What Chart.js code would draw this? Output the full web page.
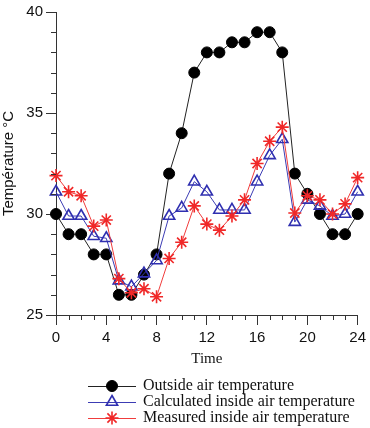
<!DOCTYPE html>
<html>
<head>
<meta charset="utf-8">
<script src="https://cdn.jsdelivr.net/npm/chart.js"></script>
<style>
  html, body { margin: 0; padding: 0; background: #fff; }
  #wrap { width: 370px; height: 428px; position: relative; }
</style>
</head>
<body>
<div id="wrap"><canvas id="chart"></canvas></div>
<script>
const hours = [0, 1, 2, 3, 4, 5, 6, 7, 8, 9, 10, 11, 12, 13, 14, 15, 16, 17, 18, 19, 20, 21, 22, 23, 24];

const outsideTemp = [30, 29, 29, 28, 28, 26, 26, 27, 28, 32, 34, 37, 38, 38, 38.5, 38.5, 39, 39, 38, 32, 31, 30, 29, 29, 30];
const calculatedTemp = [31.1, 29.9, 29.9, 28.9, 28.8, 26.7, 26.4, 27.05, 27.7, 29.9, 30.3, 31.6, 31.1, 30.2, 30.2, 30.2, 31.6, 32.9, 33.7, 29.6, 30.7, 30.4, 29.9, 30.0, 31.1];
const measuredTemp = [31.9, 31.1, 30.9, 29.4, 29.7, 26.8, 26.1, 26.3, 25.9, 27.8, 28.6, 30.4, 29.5, 29.2, 29.9, 30.7, 32.5, 33.6, 34.3, 30.05, 30.9, 30.7, 30.0, 30.5, 31.8];

const seriesNames = ['Outside air temperature', 'Calculated inside air temperature', 'Measured inside air temperature'];

const toPoints = vals => hours.map((h, i) => ({ x: h, y: vals[i] }));

const axisColor = '#333';

// minor ticks (every hour / every degree) drawn with the scales
const minorTicks = {
    id: 'minorTicks',
    afterDraw(chart) {
        const ctx = chart.ctx;
        const xs = chart.scales.x, ys = chart.scales.y;
        ctx.save();
        ctx.strokeStyle = axisColor;
        ctx.lineWidth = 1;
        ctx.beginPath();
        for (let v = xs.min; v <= xs.max; v++) {
            if (v % 4 === 0) continue;
            const px = Math.round(xs.getPixelForValue(v)) + 0.5;
            ctx.moveTo(px, xs.top);
            ctx.lineTo(px, xs.top + 5);
        }
        for (let v = ys.min; v <= ys.max; v++) {
            if (v % 5 === 0) continue;
            const py = Math.round(ys.getPixelForValue(v)) + 0.5;
            ctx.moveTo(ys.right, py);
            ctx.lineTo(ys.right - 5, py);
        }
        ctx.stroke();
        ctx.restore();
    }
};

// legend: line sample with marker in the middle, then text
const lineLegend = {
    id: 'lineLegend',
    afterDraw(chart) {
        const ctx = chart.ctx;
        const x0 = 88, x1 = 136, tx = 143;
        const rows = [386, 402, 418];
        ctx.save();
        chart.data.datasets.forEach((ds, i) => {
            const y = rows[i];
            ctx.strokeStyle = ds.borderColor;
            ctx.lineWidth = 1;
            ctx.beginPath();
            ctx.moveTo(x0, y + 0.5);
            ctx.lineTo(x1, y + 0.5);
            ctx.stroke();
            ctx.fillStyle = ds.pointBackgroundColor;
            ctx.strokeStyle = ds.pointBorderColor;
            ctx.lineWidth = ds.pointBorderWidth;
            Chart.helpers.drawPoint(ctx, {
                pointStyle: ds.pointStyle,
                radius: ds.pointRadius,
                borderWidth: ds.pointBorderWidth,
                rotation: 0
            }, (x0 + x1) / 2, y);
            ctx.fillStyle = '#111';
            ctx.font = '16px "Liberation Serif", "Times New Roman", serif';
            ctx.textBaseline = 'middle';
            ctx.textAlign = 'left';
            ctx.fillText(ds.label, tx, y);
        });
        ctx.restore();
    }
};

new Chart(document.getElementById('chart'), {
    type: 'line',
    data: {
        datasets: [
            {
                label: seriesNames[0],
                data: toPoints(outsideTemp),
                borderColor: '#222',
                borderWidth: 1,
                pointStyle: 'circle',
                pointRadius: 5.5,
                pointBackgroundColor: '#000',
                pointBorderColor: '#000',
                pointBorderWidth: 1,
                clip: false,
                order: 3
            },
            {
                label: seriesNames[1],
                data: toPoints(calculatedTemp),
                borderColor: '#3c3cb4',
                borderWidth: 1,
                pointStyle: 'triangle',
                pointRadius: 6.5,
                pointBackgroundColor: 'rgba(255,255,255,0)',
                pointBorderColor: '#2f2fb0',
                pointBorderWidth: 1.6,
                clip: false,
                order: 2
            },
            {
                label: seriesNames[2],
                data: toPoints(measuredTemp),
                borderColor: '#f03c3c',
                borderWidth: 1,
                pointStyle: 'star',
                pointRadius: 6.5,
                pointBackgroundColor: '#f02828',
                pointBorderColor: '#f02828',
                pointBorderWidth: 1.6,
                clip: false,
                order: 1
            }
        ]
    },
    options: {
        responsive: true,
        maintainAspectRatio: false,
        animation: false,
        layout: {
            padding: { top: 8, right: 9, bottom: 60, left: 0 }
        },
        plugins: {
            legend: { display: false },
            tooltip: { enabled: false }
        },
        scales: {
            x: {
                type: 'linear',
                min: 0,
                max: 24,
                afterFit: s => { s.height = 53; },
                border: { color: axisColor, width: 1 },
                grid: { drawOnChartArea: false, tickLength: 10, color: axisColor },
                ticks: {
                    stepSize: 4,
                    padding: 4,
                    color: '#111',
                    font: { family: '"Liberation Sans", Arial, sans-serif', size: 15 }
                },
                title: {
                    display: true,
                    text: 'Time',
                    color: '#111',
                    padding: 0,
                    font: { family: '"Liberation Serif", "Times New Roman", serif', size: 15 }
                }
            },
            y: {
                min: 25,
                max: 40,
                afterFit: s => { s.width = 56; },
                border: { color: axisColor, width: 1 },
                grid: { drawOnChartArea: false, tickLength: 10, color: axisColor },
                ticks: {
                    stepSize: 5,
                    padding: 3,
                    color: '#111',
                    font: { family: '"Liberation Sans", Arial, sans-serif', size: 15 }
                },
                title: {
                    display: true,
                    text: 'Température °C',
                    color: '#111',
                    padding: 0,
                    font: { family: '"Liberation Sans", Arial, sans-serif', size: 15 }
                }
            }
        }
    },
    plugins: [minorTicks, lineLegend]
});
</script>
</body>
</html>
